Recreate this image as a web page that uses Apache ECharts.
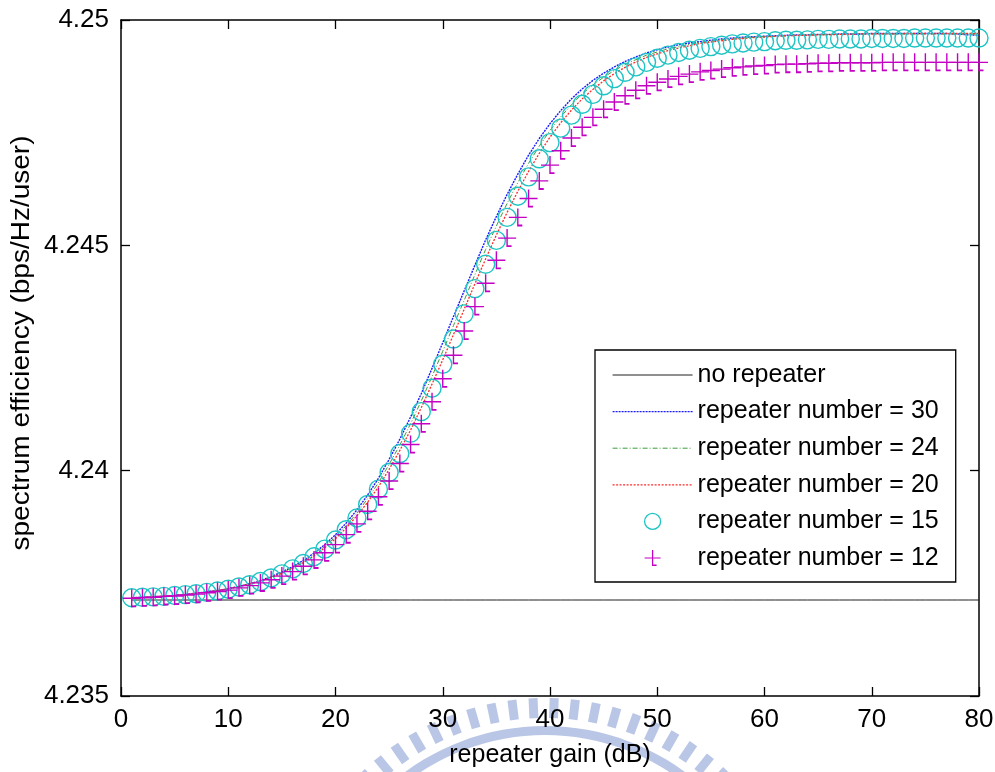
<!DOCTYPE html>
<html>
<head>
<meta charset="utf-8">
<title>spectrum efficiency vs repeater gain</title>
<script src="https://cdn.jsdelivr.net/npm/echarts@6.0.0/dist/echarts.min.js"></script>
<style>
  html, body { margin: 0; padding: 0; background: #fff; }
  #chart { width: 995px; height: 772px; }
</style>
</head>
<body>
<div id="chart"></div>
<script>
// repeater gain in dB (x values shared by every curve)
const gain = [
  1, 2, 3, 4, 5, 6, 7, 8, 9, 10, 11, 12, 13, 14, 15, 16, 17, 18, 19, 20,
  21, 22, 23, 24, 25, 26, 27, 28, 29, 30, 31, 32, 33, 34, 35, 36, 37, 38, 39, 40,
  41, 42, 43, 44, 45, 46, 47, 48, 49, 50, 51, 52, 53, 54, 55, 56, 57, 58, 59, 60,
  61, 62, 63, 64, 65, 66, 67, 68, 69, 70, 71, 72, 73, 74, 75, 76, 77, 78, 79, 80
];

// spectrum efficiency (bps/Hz/user)
const noRepeater = [
  4.23713, 4.23713, 4.23713, 4.23713, 4.23713, 4.23713, 4.23713, 4.23713, 4.23713, 4.23713,
  4.23713, 4.23713, 4.23713, 4.23713, 4.23713, 4.23713, 4.23713, 4.23713, 4.23713, 4.23713,
  4.23713, 4.23713, 4.23713, 4.23713, 4.23713, 4.23713, 4.23713, 4.23713, 4.23713, 4.23713,
  4.23713, 4.23713, 4.23713, 4.23713, 4.23713, 4.23713, 4.23713, 4.23713, 4.23713, 4.23713,
  4.23713, 4.23713, 4.23713, 4.23713, 4.23713, 4.23713, 4.23713, 4.23713, 4.23713, 4.23713,
  4.23713, 4.23713, 4.23713, 4.23713, 4.23713, 4.23713, 4.23713, 4.23713, 4.23713, 4.23713,
  4.23713, 4.23713, 4.23713, 4.23713, 4.23713, 4.23713, 4.23713, 4.23713, 4.23713, 4.23713,
  4.23713, 4.23713, 4.23713, 4.23713, 4.23713, 4.23713, 4.23713, 4.23713, 4.23713, 4.23713
];

const repeaters30 = [
  4.23718, 4.23719, 4.23720, 4.23721, 4.23723, 4.23725, 4.23728, 4.23731, 4.23734, 4.23738,
  4.23743, 4.23749, 4.23756, 4.23765, 4.23775, 4.23787, 4.23801, 4.23817, 4.23836, 4.23858,
  4.23884, 4.23913, 4.23946, 4.23983, 4.24025, 4.24070, 4.24119, 4.24171, 4.24227, 4.24284,
  4.24342, 4.24399, 4.24456, 4.24512, 4.24564, 4.24613, 4.24658, 4.24700, 4.24737, 4.24770,
  4.24799, 4.24825, 4.24847, 4.24866, 4.24882, 4.24896, 4.24908, 4.24918, 4.24927, 4.24934,
  4.24940, 4.24945, 4.24949, 4.24952, 4.24955, 4.24958, 4.24960, 4.24962, 4.24963, 4.24964,
  4.24965, 4.24966, 4.24967, 4.24967, 4.24968, 4.24968, 4.24969, 4.24969, 4.24969, 4.24970,
  4.24970, 4.24970, 4.24970, 4.24970, 4.24970, 4.24970, 4.24970, 4.24969, 4.24967, 4.24966
];

const repeaters24 = [
  4.23718, 4.23719, 4.23720, 4.23721, 4.23723, 4.23725, 4.23728, 4.23731, 4.23734, 4.23738,
  4.23743, 4.23749, 4.23755, 4.23764, 4.23773, 4.23785, 4.23798, 4.23814, 4.23832, 4.23853,
  4.23878, 4.23906, 4.23938, 4.23973, 4.24014, 4.24057, 4.24104, 4.24155, 4.24209, 4.24265,
  4.24322, 4.24378, 4.24435, 4.24491, 4.24543, 4.24593, 4.24639, 4.24682, 4.24720, 4.24755,
  4.24785, 4.24812, 4.24836, 4.24856, 4.24873, 4.24888, 4.24901, 4.24912, 4.24922, 4.24929,
  4.24936, 4.24941, 4.24946, 4.24950, 4.24953, 4.24956, 4.24958, 4.24960, 4.24962, 4.24963,
  4.24964, 4.24965, 4.24966, 4.24967, 4.24967, 4.24968, 4.24968, 4.24969, 4.24969, 4.24969,
  4.24969, 4.24969, 4.24969, 4.24969, 4.24969, 4.24969, 4.24969, 4.24969, 4.24969, 4.24969
];

const repeaters20 = [
  4.23718, 4.23719, 4.23720, 4.23722, 4.23723, 4.23725, 4.23728, 4.23730, 4.23734, 4.23738,
  4.23743, 4.23748, 4.23755, 4.23763, 4.23772, 4.23783, 4.23796, 4.23811, 4.23829, 4.23849,
  4.23873, 4.23900, 4.23930, 4.23964, 4.24003, 4.24045, 4.24090, 4.24140, 4.24192, 4.24246,
  4.24302, 4.24358, 4.24415, 4.24470, 4.24523, 4.24573, 4.24620, 4.24664, 4.24704, 4.24740,
  4.24772, 4.24800, 4.24825, 4.24846, 4.24865, 4.24881, 4.24895, 4.24907, 4.24917, 4.24925,
  4.24932, 4.24938, 4.24943, 4.24948, 4.24951, 4.24954, 4.24957, 4.24959, 4.24961, 4.24962,
  4.24964, 4.24965, 4.24966, 4.24966, 4.24967, 4.24967, 4.24968, 4.24968, 4.24969, 4.24969,
  4.24969, 4.24969, 4.24970, 4.24970, 4.24970, 4.24970, 4.24970, 4.24970, 4.24970, 4.24970
];

const repeaters15 = [
  4.23718, 4.23719, 4.23720, 4.23721, 4.23723, 4.23725, 4.23727, 4.23730, 4.23733, 4.23737,
  4.23742, 4.23747, 4.23754, 4.23762, 4.23771, 4.23782, 4.23794, 4.23809, 4.23826, 4.23846,
  4.23869, 4.23895, 4.23925, 4.23959, 4.23996, 4.24038, 4.24083, 4.24131, 4.24183, 4.24236,
  4.24292, 4.24348, 4.24404, 4.24458, 4.24511, 4.24562, 4.24609, 4.24652, 4.24692, 4.24728,
  4.24760, 4.24789, 4.24813, 4.24835, 4.24854, 4.24870, 4.24884, 4.24896, 4.24906, 4.24915,
  4.24922, 4.24928, 4.24933, 4.24937, 4.24941, 4.24944, 4.24947, 4.24949, 4.24951, 4.24952,
  4.24954, 4.24955, 4.24955, 4.24956, 4.24957, 4.24957, 4.24958, 4.24958, 4.24958, 4.24959,
  4.24959, 4.24959, 4.24959, 4.24960, 4.24960, 4.24960, 4.24960, 4.24960, 4.24960, 4.24960
];

const repeaters12 = [
  4.23717, 4.23718, 4.23719, 4.23721, 4.23722, 4.23724, 4.23726, 4.23729, 4.23732, 4.23735,
  4.23740, 4.23745, 4.23751, 4.23758, 4.23766, 4.23776, 4.23788, 4.23802, 4.23818, 4.23836,
  4.23858, 4.23882, 4.23910, 4.23942, 4.23977, 4.24016, 4.24058, 4.24104, 4.24153, 4.24204,
  4.24256, 4.24310, 4.24364, 4.24416, 4.24467, 4.24516, 4.24562, 4.24604, 4.24643, 4.24678,
  4.24710, 4.24738, 4.24762, 4.24784, 4.24802, 4.24818, 4.24832, 4.24844, 4.24854, 4.24862,
  4.24869, 4.24875, 4.24880, 4.24885, 4.24888, 4.24891, 4.24894, 4.24896, 4.24898, 4.24899,
  4.24901, 4.24902, 4.24902, 4.24903, 4.24904, 4.24904, 4.24905, 4.24905, 4.24905, 4.24905,
  4.24906, 4.24906, 4.24906, 4.24906, 4.24906, 4.24906, 4.24906, 4.24906, 4.24906, 4.24906
];

const seriesNames = [
  'no repeater',
  'repeater number = 30',
  'repeater number = 24',
  'repeater number = 20',
  'repeater number = 15',
  'repeater number = 12'
];

const xRange = { min: 0, max: 80, step: 10 };
const yRange = { min: 4.235, max: 4.25, step: 0.005 };

const FONT = '"Liberation Sans", Arial, Helvetica, sans-serif';
const AXIS_COLOR = '#000';

// plus marker with the short foot under its stem
const PLUS = 'path://M9.3,1H10.7V19H9.3Z M1,9.3H19V10.7H1Z M10.7,17.2H14.5V19H10.7Z';

const pairs = (ys) => gain.map((g, i) => [g, ys[i]]);

function frameAxis(extra) {
  return Object.assign({
    type: 'value',
    axisLine: { show: true, onZero: false, lineStyle: { color: AXIS_COLOR, width: 1.5 } },
    axisTick: { show: true, inside: true, length: 9, lineStyle: { color: AXIS_COLOR, width: 1.3 } },
    splitLine: { show: false },
    axisLabel: { show: false }
  }, extra);
}

// faint emblem printed behind the axis title
const EMBLEM = '#bac6e6';
const emblem = [];
const ecx = 545, ecy = 962;
for (let a = -44; a <= 44.1; a += 4.6) {
  const t = a * Math.PI / 180;
  emblem.push({
    type: 'rect', silent: true, z: -5,
    x: ecx + 254 * Math.sin(t), y: ecy - 254 * Math.cos(t), rotation: -t,
    shape: { x: -4.5, y: -10, width: 9, height: 20 },
    style: { fill: EMBLEM }
  });
}
emblem.push({
  type: 'sector', silent: true, z: -5,
  shape: { cx: ecx, cy: ecy, r0: 227, r: 236, startAngle: -Math.PI / 2 - 0.72, endAngle: -Math.PI / 2 + 0.72 },
  style: { fill: EMBLEM }
});

const chart = echarts.init(document.getElementById('chart'), null, { renderer: 'canvas' });

chart.setOption({
  animation: false,
  backgroundColor: '#fff',
  textStyle: { fontFamily: FONT },
  grid: { left: 121, top: 20, right: 16, bottom: 76, containLabel: false, outerBoundsMode: 'none' },
  xAxis: [
    frameAxis({
      position: 'bottom', min: xRange.min, max: xRange.max, interval: xRange.step,
      axisLabel: { show: true, fontSize: 26, color: '#000', fontFamily: FONT, margin: 11, showMinLabel: true, showMaxLabel: true },
      name: 'repeater gain (dB)', nameLocation: 'middle', nameGap: 47,
      nameTextStyle: { fontSize: 25, color: '#000', fontFamily: FONT }
    }),
    frameAxis({ position: 'top', min: xRange.min, max: xRange.max, interval: xRange.step })
  ],
  yAxis: [
    frameAxis({
      position: 'left', min: yRange.min, max: yRange.max, interval: yRange.step,
      axisLabel: {
        show: true, fontSize: 26, color: '#000', fontFamily: FONT, margin: 12,
        showMinLabel: true, showMaxLabel: true,
        formatter: (v) => String(Number(v.toFixed(3)))
      }
    }),
    frameAxis({ position: 'right', min: yRange.min, max: yRange.max, interval: yRange.step })
  ],
  legend: {
    orient: 'vertical', left: 595, top: 350,
    itemWidth: 80, itemHeight: 20, itemGap: 11.6,
    padding: [12.5, 17, 11.5, 17],
    backgroundColor: '#fff', borderColor: '#000', borderWidth: 1.3, borderRadius: 0,
    selectedMode: false,
    textStyle: { fontSize: 25, color: '#000', fontFamily: FONT },
    data: [
      { name: seriesNames[0], itemStyle: { opacity: 0 }, lineStyle: { color: '#202020', width: 1, type: 'solid', opacity: 1 } },
      { name: seriesNames[1], itemStyle: { opacity: 0 }, lineStyle: { color: '#1a1aff', width: 1.2, type: [2, 1], opacity: 1 } },
      { name: seriesNames[2], itemStyle: { opacity: 0 }, lineStyle: { color: '#3c9c3c', width: 1, type: [5, 2, 1, 2], opacity: 1 } },
      { name: seriesNames[3], itemStyle: { opacity: 0 }, lineStyle: { color: '#ff2a2a', width: 1.2, type: [2, 1.5], opacity: 1 } },
      { name: seriesNames[4], itemStyle: { color: 'rgba(0,0,0,0)', borderColor: '#1ec4c4', borderWidth: 1.3, opacity: 1 }, lineStyle: { opacity: 0 } },
      { name: seriesNames[5], itemStyle: { color: '#c400c4', borderWidth: 0, opacity: 1 }, lineStyle: { opacity: 0 } }
    ]
  },
  graphic: {
    elements: emblem.concat([
      {
        type: 'text', silent: true,
        x: 22, y: 343, rotation: Math.PI / 2, scaleX: 1.12,
        style: {
          text: 'spectrum efficiency (bps/Hz/user)',
          fontSize: 25, fontFamily: FONT, fill: '#000',
          align: 'center', verticalAlign: 'middle',
          textAlign: 'center', textVerticalAlign: 'middle'
        }
      }
    ])
  },
  series: [
    {
      name: seriesNames[0], type: 'line', data: pairs(noRepeater),
      symbol: 'none', silent: true, emphasis: { disabled: true },
      itemStyle: { color: '#202020' },
      lineStyle: { color: '#202020', width: 1 }
    },
    {
      name: seriesNames[1], type: 'line', data: pairs(repeaters30),
      symbol: 'none', silent: true, emphasis: { disabled: true },
      itemStyle: { color: '#1a1aff' },
      lineStyle: { color: '#1a1aff', width: 1.4, type: [2, 1] }
    },
    {
      name: seriesNames[2], type: 'line', data: pairs(repeaters24),
      symbol: 'none', silent: true, emphasis: { disabled: true },
      itemStyle: { color: '#3c9c3c' },
      lineStyle: { color: '#3c9c3c', width: 1, type: [5, 2, 1, 2] }
    },
    {
      name: seriesNames[3], type: 'line', data: pairs(repeaters20),
      symbol: 'none', silent: true, emphasis: { disabled: true },
      itemStyle: { color: '#ff2a2a' },
      lineStyle: { color: '#ff2a2a', width: 1.3, type: [2, 1.5] }
    },
    {
      name: seriesNames[4], type: 'line', data: pairs(repeaters15),
      symbol: 'circle', symbolSize: 18, showSymbol: true, silent: true, emphasis: { disabled: true },
      itemStyle: { color: 'rgba(0,0,0,0)', borderColor: '#1ec4c4', borderWidth: 1.4 },
      lineStyle: { opacity: 0, width: 0 }
    },
    {
      name: seriesNames[5], type: 'line', data: pairs(repeaters12),
      symbol: PLUS, symbolSize: 18, showSymbol: true, silent: true, emphasis: { disabled: true },
      itemStyle: { color: '#c400c4', borderWidth: 0 },
      lineStyle: { opacity: 0, width: 0 }
    }
  ]
});
</script>
</body>
</html>
